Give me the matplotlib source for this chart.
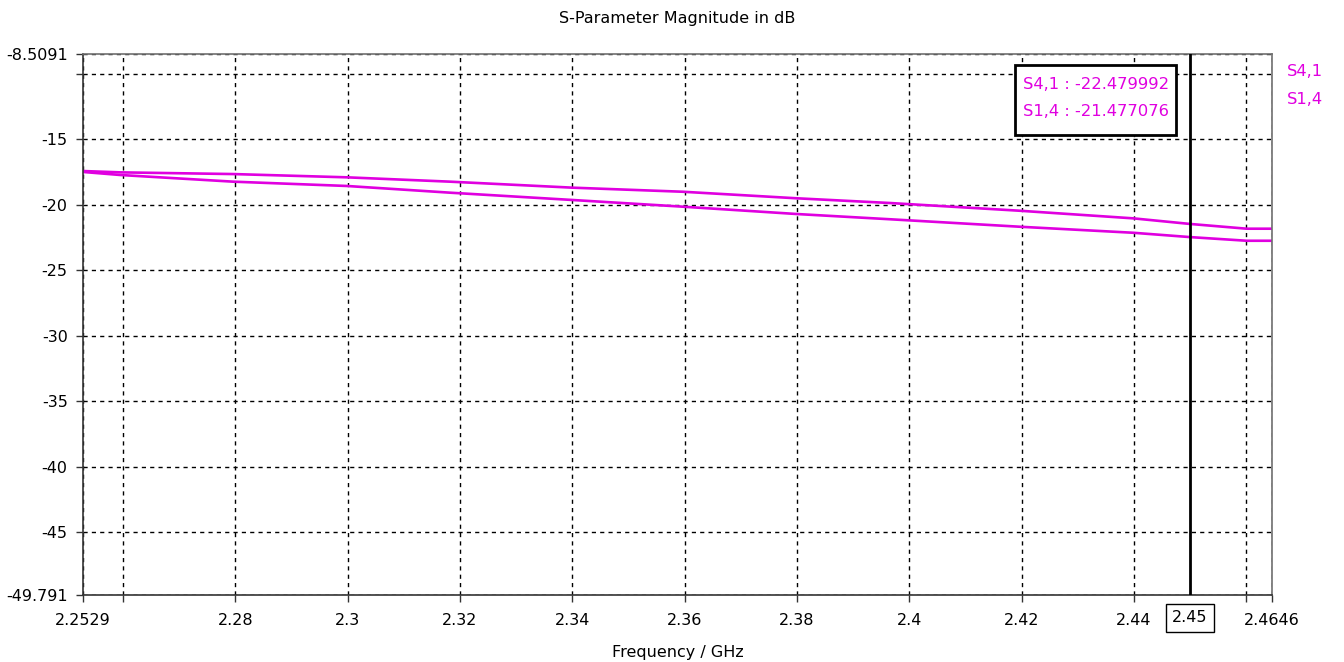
import numpy as np
import matplotlib
matplotlib.use('Agg')
import matplotlib.pyplot as plt
from matplotlib.patches import Rectangle

# S-parameter traces (frequency in GHz, magnitude in dB)
freq = [2.2529, 2.2595, 2.2796, 2.2999, 2.3182, 2.3401, 2.3597, 2.3800,
        2.3966, 2.4197, 2.4399, 2.4500, 2.4601, 2.4646]
s14 = [-17.44, -17.54, -17.67, -17.92, -18.25, -18.71, -19.02, -19.52,
       -19.88, -20.47, -21.05, -21.477076, -21.84, -21.84]
s41 = [-17.51, -17.74, -18.25, -18.58, -19.09, -19.65, -20.16, -20.72,
       -21.12, -21.69, -22.15, -22.479992, -22.76, -22.76]

x_min, x_max = 2.2529, 2.4646
y_min, y_max = -49.791, -8.5091
marker_f = 2.45

x_ticks = [2.2529, 2.26, 2.28, 2.3, 2.32, 2.34, 2.36, 2.38, 2.4, 2.42, 2.44, 2.46, 2.4646]
x_labels = ['2.2529', '', '2.28', '2.3', '2.32', '2.34', '2.36', '2.38', '2.4', '2.42', '2.44', '', '2.4646']
y_ticks = [-49.791, -45, -40, -35, -30, -25, -20, -15, -10, -8.5091]
y_labels = ['-49.791', '-45', '-40', '-35', '-30', '-25', '-20', '-15', '', '-8.5091']

magenta = '#e000e0'
plt.rcParams['font.family'] = ['DejaVu Sans']

fig = plt.figure(figsize=(13.44, 6.62), dpi=100)
ax = fig.add_axes([83 / 1344, 67 / 662, 1189 / 1344, 541 / 662])

ax.plot(freq, s41, color=magenta, lw=1.9)
ax.plot(freq, s14, color=magenta, lw=1.9)

ax.set_xlim(x_min, x_max)
ax.set_ylim(y_min, y_max)
ax.set_xticks(x_ticks)
ax.set_xticklabels(x_labels, fontsize=11.5)
ax.set_yticks(y_ticks)
ax.set_yticklabels(y_labels, fontsize=11.5)
ax.tick_params(axis='x', length=5, width=1, color='#333333', pad=8)
ax.tick_params(axis='y', length=5, width=1, color='#333333', pad=6)
ax.grid(True, color='black', linestyle=(0, (3, 3)), lw=1)

for side in ['left', 'bottom']:
    ax.spines[side].set_color('#333333')
    ax.spines[side].set_linewidth(1.2)
for side in ['top', 'right']:
    ax.spines[side].set_color('#707070')
    ax.spines[side].set_linewidth(1.2)

# marker line
ax.axvline(marker_f, color='black', lw=2, zorder=5)
ax.text(marker_f, -0.028, '2.45', transform=ax.get_xaxis_transform(),
        ha='center', va='top', fontsize=11.5,
        bbox=dict(boxstyle='square,pad=0.4', fc='white', ec='black', lw=1))

# marker readout box
ax.add_patch(Rectangle((0.7839, 0.8503), 0.1354, 0.1294, transform=ax.transAxes,
                       fc='white', ec='black', lw=2, zorder=6))
ax.text(0.7906, 0.9427, 'S4,1 : -22.479992', transform=ax.transAxes,
        ha='left', va='center', fontsize=11.8, color=magenta, zorder=7)
ax.text(0.7906, 0.8928, 'S1,4 : -21.477076', transform=ax.transAxes,
        ha='left', va='center', fontsize=11.8, color=magenta, zorder=7)

# trace legend to the right
fig.text(1287 / 1344, 1 - 72 / 662, 'S4,1', color=magenta, fontsize=11.8, va='center')
fig.text(1287 / 1344, 1 - 99 / 662, 'S1,4', color=magenta, fontsize=11.8, va='center')

ax.set_title('S-Parameter Magnitude in dB', fontsize=11.5, pad=22)
ax.set_xlabel('Frequency / GHz', fontsize=11.5, labelpad=12)

fig.savefig('out.png', dpi=100)
